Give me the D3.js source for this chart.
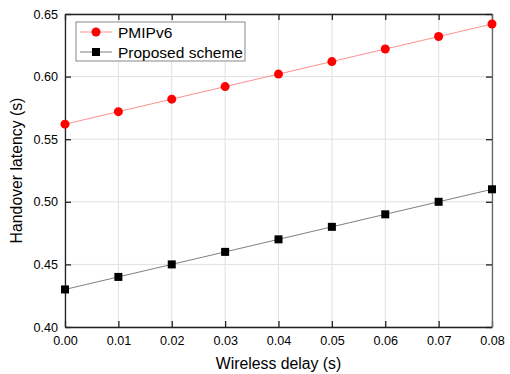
<!DOCTYPE html>
<html><head><meta charset="utf-8">
<script src="https://cdn.jsdelivr.net/npm/d3@7"></script>
<style>body{margin:0;background:#fff}svg{display:block;font-family:"Liberation Sans",Arial,sans-serif}</style>
</head><body><svg id="c" width="510" height="374"></svg>
<script>
const delays = [0, 0.01, 0.02, 0.03, 0.04, 0.05, 0.06, 0.07, 0.08];
const pmipv6 = [0.562, 0.572, 0.582, 0.592, 0.602, 0.612, 0.622, 0.632, 0.642];
const proposed = [0.430, 0.440, 0.450, 0.460, 0.470, 0.480, 0.490, 0.500, 0.510];
const xTicks = [0, 0.01, 0.02, 0.03, 0.04, 0.05, 0.06, 0.07, 0.08];
const yTicks = [0.40, 0.45, 0.50, 0.55, 0.60, 0.65];
const seriesNames = ["PMIPv6", "Proposed scheme"];

const svg = d3.select("#c");
const L = 65, R = 492, T = 14, B = 327;
const x = d3.scaleLinear().domain([0, 0.08]).range([L, R]);
const y = d3.scaleLinear().domain([0.40, 0.65]).range([B, T]);

// grid
const g = svg.append("g");
g.selectAll(".gx").data(xTicks).join("line")
  .attr("x1", d => x(d)).attr("x2", d => x(d)).attr("y1", T).attr("y2", B)
  .attr("stroke", "#e0e0e0").attr("stroke-width", 1);
g.selectAll(".gy").data(yTicks).join("line")
  .attr("x1", L).attr("x2", R).attr("y1", d => y(d)).attr("y2", d => y(d))
  .attr("stroke", "#e0e0e0").attr("stroke-width", 1);

// axes
const fmt = d3.format(".2f");
const ax = svg.append("g").attr("transform", `translate(0,${B})`)
  .call(d3.axisBottom(x).tickValues(xTicks).tickFormat(fmt).tickSizeInner(-6).tickSizeOuter(0).tickPadding(9));
const axT = svg.append("g").attr("transform", `translate(0,${T})`)
  .call(d3.axisTop(x).tickValues(xTicks).tickFormat("").tickSizeInner(-6).tickSizeOuter(0));
const ay = svg.append("g").attr("transform", `translate(${L},0)`)
  .call(d3.axisLeft(y).tickValues(yTicks).tickFormat(fmt).tickSizeInner(-6).tickSizeOuter(0).tickPadding(7));
const ayR = svg.append("g").attr("transform", `translate(${R},0)`)
  .call(d3.axisRight(y).tickValues(yTicks).tickFormat("").tickSizeInner(-6).tickSizeOuter(0));
[ax, axT, ay, ayR].forEach(a => {
  a.select(".domain").attr("stroke", "#222").attr("stroke-width", 1.3);
  a.selectAll(".tick line").attr("stroke", "#222").attr("stroke-width", 1.3);
  a.selectAll("text").attr("font-size", 12.6).attr("fill", "#000").attr("font-family", "Liberation Sans, Arial, sans-serif");
});
ayR.select(".domain").attr("stroke", "#666");

// lines
const line = d3.line().x((d, i) => x(delays[i])).y(d => y(d));
svg.append("path").datum(pmipv6).attr("d", line).attr("fill", "none").attr("stroke", "#ff9090").attr("stroke-width", 1);
svg.append("path").datum(proposed).attr("d", line).attr("fill", "none").attr("stroke", "#808080").attr("stroke-width", 1);

svg.append("g").selectAll("circle").data(pmipv6).join("circle")
  .attr("cx", (d, i) => x(delays[i])).attr("cy", d => y(d)).attr("r", 4.5).attr("fill", "#ff0000");
svg.append("g").selectAll("rect").data(proposed).join("rect")
  .attr("x", (d, i) => x(delays[i]) - 4).attr("y", d => y(d) - 4).attr("width", 8).attr("height", 8).attr("fill", "#000");

// legend
const lg = svg.append("g");
lg.append("rect").attr("x", 76).attr("y", 22).attr("width", 169).attr("height", 39)
  .attr("fill", "#fff").attr("stroke", "#888").attr("stroke-width", 1);
const items = [{c: "#ff9090", m: "circle"}, {c: "#808080", m: "square"}];
items.forEach((it, i) => {
  const yy = 32 + i * 20;
  lg.append("line").attr("x1", 80).attr("x2", 112).attr("y1", yy).attr("y2", yy).attr("stroke", it.c);
  if (it.m === "circle") lg.append("circle").attr("cx", 96).attr("cy", yy).attr("r", 4.5).attr("fill", "#ff0000");
  else lg.append("rect").attr("x", 92).attr("y", yy - 4).attr("width", 8).attr("height", 8).attr("fill", "#000");
  lg.append("text").attr("x", 118).attr("y", yy + 5.5).attr("font-size", 15.5).text(seriesNames[i]);
});

// titles
svg.append("text").attr("x", (L + R) / 2).attr("y", 369).attr("text-anchor", "middle").attr("font-size", 15.8).text("Wireless delay (s)");
svg.append("text").attr("transform", `translate(22,${(T + B) / 2}) rotate(-90)`).attr("text-anchor", "middle").attr("font-size", 15.8).text("Handover latency (s)");
</script></body></html>
